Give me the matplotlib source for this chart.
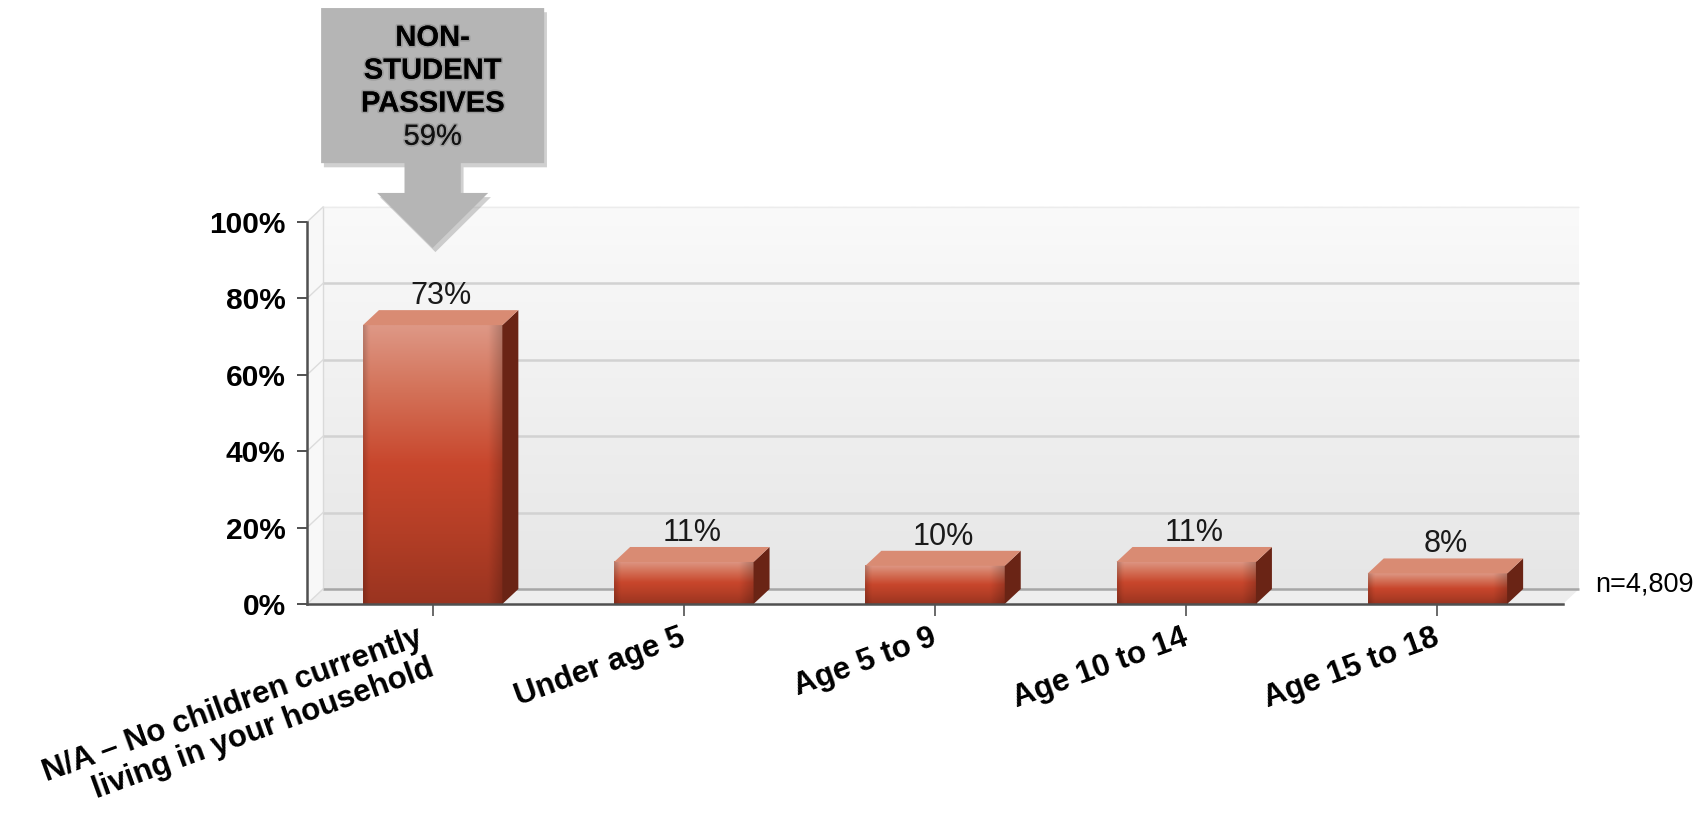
import numpy as np
import matplotlib
matplotlib.use("Agg")
import matplotlib.pyplot as plt
import matplotlib.patheffects as pe
from matplotlib.patches import Polygon
from matplotlib.colors import to_rgb
from matplotlib.transforms import offset_copy, ScaledTranslation

# ---- data -------------------------------------------------------------
categories = [
    "N/A \u2013 No children currently\nliving in your household",
    "Under age 5",
    "Age 5 to 9",
    "Age 10 to 14",
    "Age 15 to 18",
]
shares = [73, 11, 10, 11, 8]
value_labels = ["73%", "11%", "10%", "11%", "8%"]
y_ticks = [0, 20, 40, 60, 80, 100]
y_tick_labels = ["0%", "20%", "40%", "60%", "80%", "100%"]
callout_title = ["NON-", "STUDENT", "PASSIVES"]
callout_value = "59%"
sample_note = "n=4,809"

# ---- style ------------------------------------------------------------
plt.rcParams["font.family"] = ["Liberation Sans", "DejaVu Sans"]
AXIS_COLOR = "#505050"
GRID_COLOR = "#d2d2d2"
BAR_TOP = "#d98b73"
BAR_SIDE = "#6a2415"
FRONT_STOPS = [(0.0, "#de9886"), (0.22, "#d4745b"), (0.5, "#c8462c"),
               (0.75, "#b33e26"), (1.0, "#9a3420")]
DEPTH_PX = (16, 15)
BAR_WIDTH = 0.555

fig = plt.figure(figsize=(17.03, 8.17), dpi=100)
fig.patch.set_facecolor("white")
ax = fig.add_axes([0.1803, 0.2607, 0.7375, 0.4676])
ax.patch.set_visible(False)

x = np.arange(len(categories))
xlo, xhi = -0.5, len(categories) - 0.5
ylo, yhi = 0, 100
ax.set_xlim(xlo, xhi)
ax.set_ylim(ylo, yhi)
ax.autoscale(False)

# depth of the pseudo-3D frame expressed in data units
p0 = ax.transData.transform((0, 0))
p1 = ax.transData.transform((1, 1))
ddx = DEPTH_PX[0] / (p1[0] - p0[0])
ddy = DEPTH_PX[1] / (p1[1] - p0[1])


def ramp(stops, n=256):
    t = np.linspace(0, 1, n)
    pos = [p for p, _ in stops]
    cols = np.array([to_rgb(c) for _, c in stops])
    return np.stack([np.interp(t, pos, cols[:, k]) for k in range(3)], axis=1)


# back wall with soft vertical gradient
wall = ramp([(0.0, "#fafafa"), (1.0, "#e6e6e6")])[:, None, :]
im = ax.imshow(wall, extent=(xlo + ddx, xhi + ddx, ylo + ddy, yhi + ddy),
               aspect="auto", interpolation="bilinear", zorder=0)
im.set_clip_on(False)

# left side wall and floor
ax.add_patch(Polygon([(xlo, ylo), (xlo + ddx, ylo + ddy), (xlo + ddx, yhi + ddy), (xlo, yhi)],
                     closed=True, facecolor="#f8f8f8", edgecolor="none", zorder=0.5, clip_on=False))
ax.add_patch(Polygon([(xlo, ylo), (xhi, ylo), (xhi + ddx, ylo + ddy), (xlo + ddx, ylo + ddy)],
                     closed=True, facecolor="#eeeeee", edgecolor="none", zorder=0.5, clip_on=False))
ax.plot([xlo + ddx, xlo + ddx], [ylo + ddy, yhi + ddy], color="#dadada", lw=1.0,
        zorder=0.6, clip_on=False)

# gridlines on the back wall plus their diagonals on the side wall
for v in y_ticks:
    if v == ylo:
        col, lw = "#a6a6a6", 1.8
    elif v == yhi:
        col, lw = "#ececec", 1.0
    else:
        col, lw = GRID_COLOR, 1.8
    ax.plot([xlo + ddx, xhi + ddx], [v + ddy, v + ddy], color=col, lw=lw,
            zorder=1, clip_on=False, solid_capstyle="butt")
    ax.plot([xlo, xlo + ddx], [v, v + ddy], color="#dcdcdc", lw=1.0,
            zorder=1, clip_on=False)

# bars: gradient front face, lit top face, dark side face
front = ramp(FRONT_STOPS)
ncol = 64
shade = np.ones(ncol)
c = np.linspace(0, 1, ncol)
shade = np.where(c < 0.04, 0.84 + 0.16 * c / 0.04, shade)
shade = np.where(c > 0.9, 1.0 - 0.2 * (c - 0.9) / 0.1, shade)
front_img = np.clip(front[:, None, :] * shade[None, :, None], 0, 1)

half = BAR_WIDTH / 2
for xi, h in zip(x, shares):
    l, r = xi - half, xi + half
    bim = ax.imshow(front_img, extent=(l, r, 0, h), aspect="auto",
                    interpolation="bilinear", zorder=3)
    bim.set_clip_on(False)
    ax.add_patch(Polygon([(r, 0), (r + ddx, ddy), (r + ddx, h + ddy), (r, h)], closed=True,
                         facecolor=BAR_SIDE, edgecolor="none", zorder=3, clip_on=False))
    ax.add_patch(Polygon([(l, h), (r, h), (r + ddx, h + ddy), (l + ddx, h + ddy)], closed=True,
                         facecolor=BAR_TOP, edgecolor="none", zorder=3, clip_on=False))

# value labels above each bar
label_tr = offset_copy(ax.transData, fig=fig, x=0, y=6, units="dots")
for xi, h, txt in zip(x, shares, value_labels):
    ax.text(xi + ddx / 2, h + ddy, txt, transform=label_tr, ha="center", va="baseline",
            fontsize=22, color="#1a1a1a", zorder=5, clip_on=False)

# axes, ticks and tick labels
for side in ("top", "right"):
    ax.spines[side].set_visible(False)
for side in ("left", "bottom"):
    ax.spines[side].set_color(AXIS_COLOR)
    ax.spines[side].set_linewidth(1.8)
    ax.spines[side].set_zorder(4)

ax.set_yticks(y_ticks)
ax.set_yticklabels(y_tick_labels, fontsize=21.5, fontweight="bold")
ax.tick_params(axis="y", length=7, width=1.4, color=AXIS_COLOR, pad=8.5)

ax.set_xticks(x)
ax.set_xticklabels(categories, fontsize=22.5, fontweight="bold", rotation=20,
                   ha="right", va="top", rotation_mode="anchor", linespacing=1.12)
ax.tick_params(axis="x", length=8.5, width=1.2, color=AXIS_COLOR, pad=7)

# nudge the slanted labels a little to the left (the two-line one a bit more)
label_shift_px = [-16, -5, -5, -5, -5]
for lbl, dx in zip(ax.get_xticklabels(), label_shift_px):
    lbl.set_transform(lbl.get_transform() + ScaledTranslation(dx / 100, 3 / 100,
                                                              fig.dpi_scale_trans))

# sample size note
ax.text(1.026, 0.05, sample_note, transform=ax.transAxes, ha="left", va="center",
        fontsize=19.5, color="black", clip_on=False)

# callout arrow pointing at the first bar
cx = x[0]
box_half, shaft_half, head_half = 0.444, 0.112, 0.221
box_top, box_bottom, head_top, tip = 156.0, 115.4, 107.6, 93.2
callout = Polygon([
    (cx - box_half, box_top), (cx + box_half, box_top),
    (cx + box_half, box_bottom), (cx + shaft_half, box_bottom),
    (cx + shaft_half, head_top), (cx + head_half, head_top),
    (cx, tip),
    (cx - head_half, head_top), (cx - shaft_half, head_top),
    (cx - shaft_half, box_bottom), (cx - box_half, box_bottom),
], closed=True, facecolor="#b5b5b5", edgecolor="none", zorder=6, clip_on=False)
callout.set_path_effects([pe.SimplePatchShadow(offset=(2, -3), shadow_rgbFace="#7a7a7a",
                                               alpha=0.35), pe.Normal()])
ax.add_patch(callout)

text_fx = [pe.Stroke(linewidth=2.5, foreground=(0.35, 0.35, 0.35, 0.25)), pe.Normal()]
line_ys = [148.2, 139.6, 131.0]
for line, ly in zip(callout_title, line_ys):
    ax.text(cx, ly, line, ha="center", va="center", fontsize=21, fontweight="bold",
            color="black", zorder=7, clip_on=False, path_effects=text_fx)
ax.text(cx, 122.3, callout_value, ha="center", va="center", fontsize=21,
        color="#111111", zorder=7, clip_on=False, path_effects=text_fx)

fig.savefig("out.png", dpi=100, facecolor="white")
